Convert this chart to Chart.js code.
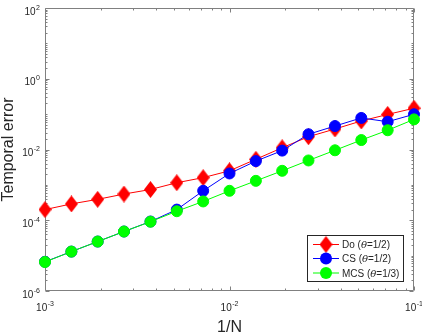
<!DOCTYPE html>
<html><head><meta charset="utf-8">
<script src="https://cdn.jsdelivr.net/npm/chart.js@4/dist/chart.umd.min.js"></script>
<style>html,body{margin:0;padding:0;background:#fff;}#wrap{width:422px;height:333px;position:relative;}</style>
</head><body><div id="wrap"><canvas id="c" width="422" height="333"></canvas></div>
<script>
// ---- data ----
const invN   = [0.001, 0.00139, 0.00193, 0.00268, 0.00373, 0.00518, 0.0072, 0.01, 0.0139, 0.0193, 0.0268, 0.0373, 0.0518, 0.072, 0.1];
const doErr  = [2.0e-4, 2.9e-4, 3.9e-4, 5.5e-4, 7.4e-4, 1.15e-3, 1.6e-3, 2.5e-3, 5.3e-3, 1.12e-2, 2.3e-2, 3.8e-2, 6.4e-2, 9.8e-2, 1.47e-1];
const csErr  = [6.7e-6, 1.3e-5, 2.5e-5, 4.8e-5, 9.2e-5, 2.0e-4, 6.8e-4, 2.1e-3, 4.7e-3, 9.3e-3, 2.7e-2, 4.6e-2, 7.8e-2, 6.1e-2, 9.9e-2];
const mcsErr = [6.6e-6, 1.3e-5, 2.5e-5, 4.8e-5, 9.1e-5, 1.8e-4, 3.4e-4, 6.8e-4, 1.3e-3, 2.5e-3, 4.9e-3, 9.5e-3, 1.85e-2, 3.5e-2, 7.1e-2];
const seriesNames = ['Do', 'CS', 'MCS'];
const thetaValues = ['1/2', '1/2', '1/3'];
const xTickExps = [-3, -2, -1];
const yTickExps = [-6, -4, -2, 0, 2];
const xTitle = '1/N';
const yTitle = 'Temporal error';

const RED = '#ff0000', BLUE = '#0000ff', GREEN = '#00ff00';
const AXIS = '#808080', TXT = '#262626';
const FONT = '"Liberation Sans", Arial, Helvetica, sans-serif';

function makeDiamond(color, w, h) {
  const c = document.createElement('canvas');
  c.width = w; c.height = h;
  const g = c.getContext('2d');
  g.fillStyle = color;
  g.beginPath();
  g.moveTo(w / 2, 0); g.lineTo(w, h / 2); g.lineTo(w / 2, h); g.lineTo(0, h / 2); g.closePath();
  g.fill();
  return c;
}
const diamond = makeDiamond(RED, 13, 17);

function pts(ys) { return invN.map((x, i) => ({ x: x, y: ys[i] })); }

const markers = [
  { style: diamond, color: RED },
  { style: 'circle', color: BLUE },
  { style: 'circle', color: GREEN }
];

function drawPow(ctx, exp, x, y, align) {
  const base = '10', sup = String(exp);
  ctx.font = '10px ' + FONT;
  const wb = ctx.measureText(base).width;
  ctx.font = '7px ' + FONT;
  const ws = ctx.measureText(sup).width;
  const total = wb + ws + 0.5;
  let x0 = align === 'right' ? x - total : x - total / 2;
  ctx.fillStyle = TXT;
  ctx.textAlign = 'left';
  ctx.textBaseline = 'alphabetic';
  ctx.font = '10px ' + FONT;
  ctx.fillText(base, x0, y);
  ctx.font = '7px ' + FONT;
  ctx.fillText(sup, x0 + wb + 0.5, y - 5);
}

const axesPlugin = {
  id: 'matlabAxes',
  beforeDatasetsDraw(chart) {
    const ctx = chart.ctx, a = chart.chartArea, xs = chart.scales.x, ys = chart.scales.y;
    ctx.save();
    ctx.strokeStyle = AXIS; ctx.lineWidth = 1;
    const L = Math.round(a.left) + 0.5, R = Math.round(a.right) - 0.5;
    const T = Math.round(a.top) + 0.5, B = Math.round(a.bottom) - 0.5;
    ctx.beginPath();
    for (let e = -3; e <= -1; e++) {
      for (let m = 1; m <= 9; m++) {
        const v = m * Math.pow(10, e);
        if (v > 0.1 * 1.0001) break;
        const px = Math.round(xs.getPixelForValue(v)) + 0.5;
        const len = (m === 1) ? 4 : 2;
        ctx.moveTo(px, B); ctx.lineTo(px, B - len);
        ctx.moveTo(px, T); ctx.lineTo(px, T + len);
      }
    }
    for (let e = -6; e <= 2; e++) {
      for (let m = 1; m <= 9; m++) {
        const v = m * Math.pow(10, e);
        if (v > 100 * 1.0001) break;
        const py = Math.round(ys.getPixelForValue(v)) + 0.5;
        const len = (m === 1 && yTickExps.includes(e)) ? 4 : 2;
        ctx.moveTo(L, py); ctx.lineTo(L + len, py);
        ctx.moveTo(R, py); ctx.lineTo(R - len, py);
      }
    }
    ctx.stroke();
    ctx.beginPath();
    ctx.rect(L, T, R - L, B - T);
    ctx.stroke();
    ctx.restore();
  },
  afterDraw(chart) {
    const ctx = chart.ctx, a = chart.chartArea, xs = chart.scales.x, ys = chart.scales.y;
    ctx.save();
    xTickExps.forEach(e => drawPow(ctx, e, xs.getPixelForValue(Math.pow(10, e)), a.bottom + 20, 'center'));
    yTickExps.forEach(e => drawPow(ctx, e, a.left - 5, ys.getPixelForValue(Math.pow(10, e)) + 6.5, 'right'));
    ctx.fillStyle = TXT;
    ctx.font = '16px ' + FONT;
    ctx.textAlign = 'center'; ctx.textBaseline = 'alphabetic';
    ctx.fillText(xTitle, (a.left + a.right) / 2, a.bottom + 41);
    ctx.save();
    ctx.translate(13, (a.top + a.bottom) / 2);
    ctx.rotate(-Math.PI / 2);
    ctx.fillText(yTitle, 0, 0);
    ctx.restore();

    // legend
    const bx = 307.5, by = 235.5, bw = 96, bh = 46;
    ctx.fillStyle = '#ffffff';
    ctx.fillRect(bx, by, bw, bh);
    ctx.strokeStyle = TXT; ctx.lineWidth = 1;
    ctx.strokeRect(bx, by, bw, bh);
    const rowY = [by + 9, by + 23, by + 37.5];
    chart.data.datasets.forEach((ds, i) => {
      const y = rowY[i];
      ctx.strokeStyle = ds.borderColor; ctx.lineWidth = 1;
      ctx.beginPath(); ctx.moveTo(313, y); ctx.lineTo(339, y); ctx.stroke();
      const mk = markers[i];
      if (mk.style === 'circle') {
        ctx.fillStyle = mk.color;
        ctx.beginPath(); ctx.arc(326, y, 6, 0, Math.PI * 2); ctx.fill();
      } else {
        ctx.drawImage(mk.style, 326 - mk.style.width / 2, y - mk.style.height / 2);
      }
      let tx = 342;
      const base = y + 3.5;
      ctx.fillStyle = TXT; ctx.textAlign = 'left';
      ctx.font = '10px ' + FONT;
      const p1 = seriesNames[i] + ' (';
      ctx.fillText(p1, tx, base); tx += ctx.measureText(p1).width;
      ctx.font = 'italic 10px "DejaVu Serif", "Liberation Serif", serif';
      ctx.fillText('\u03b8', tx, base); tx += ctx.measureText('\u03b8').width;
      ctx.font = '10px ' + FONT;
      ctx.fillText('=' + thetaValues[i] + ')', tx, base);
    });
    ctx.restore();
  }
};

new Chart(document.getElementById('c'), {
  type: 'scatter',
  data: {
    datasets: [
      { label: seriesNames[0], data: pts(doErr), showLine: true, borderColor: RED, backgroundColor: RED, borderWidth: 1,
        pointStyle: diamond, pointRadius: 7, pointHoverRadius: 7, order: 3, clip: false, tension: 0 },
      { label: seriesNames[1], data: pts(csErr), showLine: true, borderColor: BLUE, backgroundColor: BLUE, borderWidth: 1,
        pointStyle: 'circle', pointRadius: 5.5, pointBorderWidth: 1, pointBorderColor: BLUE, pointBackgroundColor: BLUE, order: 2, clip: false, tension: 0 },
      { label: seriesNames[2], data: pts(mcsErr), showLine: true, borderColor: GREEN, backgroundColor: GREEN, borderWidth: 1,
        pointStyle: 'circle', pointRadius: 5.5, pointBorderWidth: 1, pointBorderColor: GREEN, pointBackgroundColor: GREEN, order: 1, clip: false, tension: 0 }
    ]
  },
  options: {
    responsive: false,
    animation: false,
    devicePixelRatio: 1,
    layout: { padding: { left: 45, right: 7, top: 6, bottom: 42 } },
    plugins: { legend: { display: false }, tooltip: { enabled: false } },
    scales: {
      x: { type: 'logarithmic', min: 0.001, max: 0.1, display: false },
      y: { type: 'logarithmic', min: 1e-6, max: 100, display: false }
    }
  },
  plugins: [axesPlugin]
});
</script>
</body></html>
